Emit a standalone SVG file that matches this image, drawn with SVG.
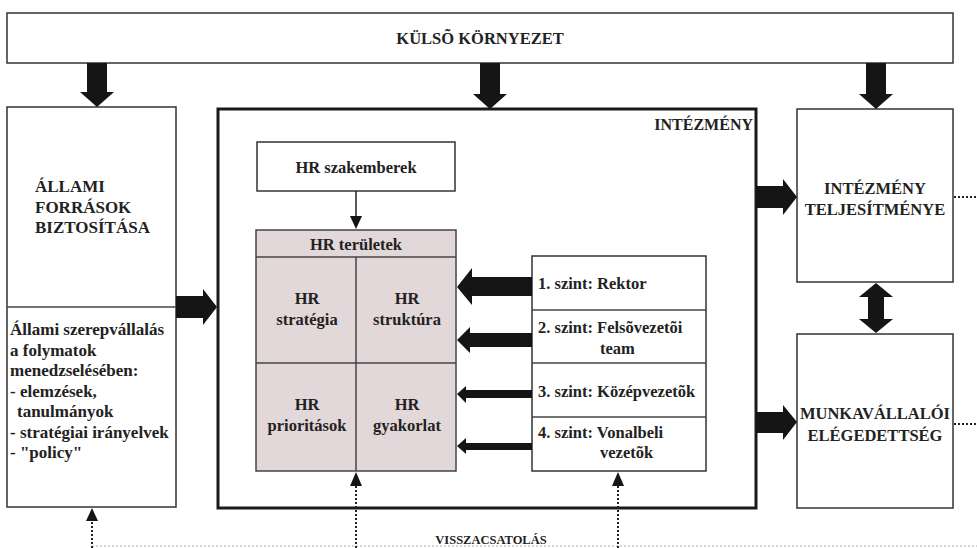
<svg xmlns="http://www.w3.org/2000/svg" width="977" height="548" viewBox="0 0 977 548">
<style>
  text { font-family: "Liberation Serif", "Times New Roman", serif; font-weight: bold; fill: #222; }
  .box { fill: #fff; stroke: #333; stroke-width: 1.5; }
  .thick { fill: #fff; stroke: #1a1a1a; stroke-width: 3; }
  .hr { fill: #e2d7d9; stroke: #444; stroke-width: 1.5; }
  .ln { stroke: #444; stroke-width: 1.5; fill: none; }
  .arr { fill: #151515; }
  .dot { stroke: #222; stroke-width: 2; stroke-dasharray: 2 2; fill: none; }
  .fb { stroke: #c8c8c8; stroke-width: 1.5; stroke-dasharray: 2 2; fill: none; }
  .m { text-anchor: middle; }
</style>

<g id="kulso">
  <rect class="box" x="7" y="13" width="946" height="50"/>
  <text class="m" x="480" y="44" font-size="16.5">KÜLSÕ KÖRNYEZET</text>
</g>

<g id="allami">
  <rect class="box" x="7" y="107" width="169" height="400"/>
  <line class="ln" x1="7" y1="307" x2="176" y2="307"/>
  <text x="35" y="192" font-size="17">ÁLLAMI</text>
  <text x="35" y="212.5" font-size="17">FORRÁSOK</text>
  <text x="35" y="233" font-size="17">BIZTOSÍTÁSA</text>
  <text x="10" y="335" font-size="17">Állami szerepvállalás</text>
  <text x="10" y="355.5" font-size="17">a folymatok</text>
  <text x="10" y="376" font-size="17">menedzselésében:</text>
  <text x="10" y="396.5" font-size="17">- elemzések,</text>
  <text x="17" y="417" font-size="17">tanulmányok</text>
  <text x="10" y="437.5" font-size="17">- stratégiai irányelvek</text>
  <text x="10" y="458" font-size="17">- "policy"</text>
</g>

<g id="intezmeny">
  <rect class="thick" x="218" y="109" width="538" height="399"/>
  <text x="753" y="130" font-size="16" text-anchor="end">INTÉZMÉNY</text>
</g>

<g id="hr-szakemberek">
  <rect class="box" x="257" y="142" width="198" height="49"/>
  <text class="m" x="356" y="173" font-size="16.5">HR szakemberek</text>
</g>

<g id="hr-teruletek">
  <rect class="hr" x="256" y="230" width="200" height="241"/>
  <line class="ln" x1="256" y1="257" x2="456" y2="257"/>
  <line class="ln" x1="356" y1="257" x2="356" y2="471"/>
  <line class="ln" x1="256" y1="363" x2="456" y2="363"/>
  <text class="m" x="356" y="250" font-size="16.5">HR területek</text>
  <text class="m" x="307" y="304" font-size="16.5">HR</text>
  <text class="m" x="307" y="325" font-size="16.5">stratégia</text>
  <text class="m" x="407" y="304" font-size="16.5">HR</text>
  <text class="m" x="407" y="325" font-size="16.5">struktúra</text>
  <text class="m" x="307" y="410" font-size="16.5">HR</text>
  <text class="m" x="307" y="431" font-size="16.5">prioritások</text>
  <text class="m" x="407" y="410" font-size="16.5">HR</text>
  <text class="m" x="407" y="431" font-size="16.5">gyakorlat</text>
</g>

<g id="szintek">
  <rect class="box" x="532" y="256" width="174" height="215"/>
  <line class="ln" x1="532" y1="310" x2="706" y2="310"/>
  <line class="ln" x1="532" y1="363" x2="706" y2="363"/>
  <line class="ln" x1="532" y1="417" x2="706" y2="417"/>
  <text x="538" y="289" font-size="16.5">1. szint: Rektor</text>
  <text x="538" y="333" font-size="16.5">2. szint: Felsõvezetõi</text>
  <text x="600" y="354" font-size="16.5">team</text>
  <text x="538" y="397" font-size="16.5">3. szint: Középvezetõk</text>
  <text x="538" y="438" font-size="16.5">4. szint: Vonalbeli</text>
  <text x="600" y="458" font-size="16.5">vezetõk</text>
</g>

<g id="teljesitmeny">
  <rect class="box" x="797" y="109" width="156" height="173"/>
  <text class="m" x="875" y="194" font-size="16.5">INTÉZMÉNY</text>
  <text class="m" x="875" y="215" font-size="16.5">TELJESÍTMÉNYE</text>
</g>

<g id="elegedettseg">
  <rect class="box" x="797" y="334" width="156" height="174"/>
  <text class="m" x="875" y="419" font-size="16.5">MUNKAVÁLLALÓI</text>
  <text class="m" x="875" y="441" font-size="16.5">ELÉGEDETTSÉG</text>
</g>

<g id="visszacsatolas">
  <text class="m" x="491" y="544" font-size="12.5">VISSZACSATOLÁS</text>
</g>

<g id="connectors">
  <!-- top arrows -->
  <polygon class="arr" points="87,63 107,63 107,92 114,92 97,107 80,92 87,92"/>
  <polygon class="arr" points="480,63 500,63 500,94 507,94 490,109 473,94 480,94"/>
  <polygon class="arr" points="866,63 886,63 886,94 893,94 876,109 859,94 866,94"/>
  <!-- left to middle -->
  <polygon class="arr" points="176,296 203,296 203,289 217,307 203,325 203,318 176,318"/>
  <!-- middle to right -->
  <polygon class="arr" points="756,186 783,186 783,179 797,197 783,215 783,208 756,208"/>
  <polygon class="arr" points="756,412 783,412 783,405 797,422 783,440 783,433 756,433"/>
  <!-- double arrow -->
  <polygon class="arr" points="876,283 893,297 884,297 884,319 893,319 876,333 859,319 868,319 868,297 859,297"/>
  <!-- HR szakemberek to HR teruletek -->
  <line x1="356" y1="191" x2="356" y2="217" stroke="#222" stroke-width="1.5"/>
  <polygon class="arr" points="350,216 362,216 356,229"/>
  <!-- levels to HR areas -->
  <polygon class="arr" points="532,277 472,277 472,268 457,287 472,305 472,296 532,296"/>
  <polygon class="arr" points="532,333 470,333 470,327 457,340 470,353 470,347 532,347"/>
  <polygon class="arr" points="532,390 466,390 466,386 457,394 466,403 466,398 532,398"/>
  <polygon class="arr" points="532,443 466,443 466,438 457,446 466,454 466,450 532,450"/>
  <!-- feedback dotted lines -->
  <line class="fb" x1="92" y1="546" x2="977" y2="546"/>
  <line class="dot" x1="92" y1="548" x2="92" y2="520"/>
  <polygon class="arr" points="86,521 98,521 92,508"/>
  <line class="dot" x1="356" y1="548" x2="356" y2="485"/>
  <polygon class="arr" points="350,486 362,486 356,472"/>
  <line class="dot" x1="618" y1="548" x2="618" y2="485"/>
  <polygon class="arr" points="612,486 624,486 618,472"/>
  <line class="dot" x1="954" y1="197" x2="977" y2="197"/>
  <line class="dot" x1="954" y1="424" x2="977" y2="424"/>
</g>
</svg>
